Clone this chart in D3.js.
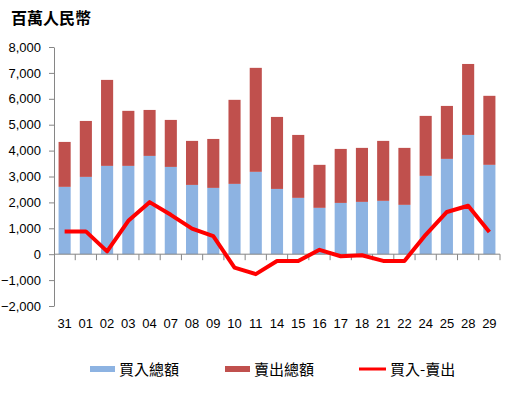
<!DOCTYPE html>
<html lang="zh-Hant">
<head>
<meta charset="UTF-8">
<title>買入賣出</title>
<script src="https://d3js.org/d3.v7.min.js"></script>
<style>
  body { margin: 0; background: #fff; }
  svg text { font-family: "Liberation Sans", Arial, sans-serif; }
</style>
</head>
<body>
<svg id="chart" width="516" height="396"></svg>
<script>
// 日期
var days = ["31","01","02","03","04","07","08","09","10","11","14","15","16","17","18","21","22","24","25","28","29"];
// 買入總額 (百萬人民幣)
var buyTotal = [2600, 2985, 3410, 3410, 3795, 3370, 2675, 2560, 2715, 3180, 2520, 2175, 1790, 1980, 2020, 2060, 1905, 3025, 3680, 4605, 3450];
// 賣出總額
var sellTotal = [1735, 2160, 3320, 2125, 1775, 1815, 1700, 1890, 3245, 4015, 2780, 2430, 1660, 2085, 2085, 2315, 2200, 2315, 2045, 2740, 2665];
// 買入-賣出
var netFlow = [880, 880, 110, 1290, 2010, 1520, 990, 700, -520, -770, -260, -260, 170, -80, -40, -260, -260, 750, 1630, 1870, 860];
var yTicks = [-2000, -1000, 0, 1000, 2000, 3000, 4000, 5000, 6000, 7000, 8000];

var svg = d3.select("#chart");
var plotLeft = 54, plotRight = 500, plotTop = 47, plotBottom = 306;

var x = d3.scaleBand()
    .domain(days)
    .range([plotLeft, plotRight])
    .paddingInner(0.43)
    .paddingOuter(0.215);

var y = d3.scaleLinear()
    .domain([-2000, 8000])
    .range([plotBottom, plotTop]);

var fmt = d3.format(",");

// 標題
svg.append("text")
    .attr("x", 11)
    .attr("y", 24)
    .attr("font-size", "16px")
    .attr("font-weight", "bold")
    .style("font-family", "'Noto Sans CJK TC', sans-serif")
    .text("百萬人民幣");

// 堆疊柱
var rows = days.map(function(d, i) {
    return { day: d, buy: buyTotal[i], sell: sellTotal[i], net: netFlow[i] };
});

svg.selectAll(".buy")
    .data(rows)
    .enter().append("rect")
    .attr("class", "buy")
    .attr("x", d => x(d.day))
    .attr("y", d => y(d.buy))
    .attr("width", x.bandwidth())
    .attr("height", d => y(0) - y(d.buy))
    .attr("fill", "#8DB3E2");

svg.selectAll(".sell")
    .data(rows)
    .enter().append("rect")
    .attr("class", "sell")
    .attr("x", d => x(d.day))
    .attr("y", d => y(d.buy + d.sell))
    .attr("width", x.bandwidth())
    .attr("height", d => y(d.buy) - y(d.buy + d.sell))
    .attr("fill", "#C0504D");

// Y 軸
var yAxis = svg.append("g")
    .attr("transform", "translate(" + plotLeft + ",0)")
    .call(d3.axisLeft(y).tickValues(yTicks).tickFormat(fmt).tickSize(5).tickSizeOuter(0));
yAxis.select(".domain").attr("stroke", "#868686");
yAxis.selectAll(".tick line").attr("stroke", "#868686");
yAxis.selectAll("text")
    .attr("x", -13)
    .attr("font-size", "13px")
    .attr("fill", "#000");

// X 軸 (零線)
svg.append("line")
    .attr("x1", plotLeft).attr("x2", plotRight)
    .attr("y1", y(0)).attr("y2", y(0))
    .attr("stroke", "#868686");

svg.selectAll(".xtick")
    .data(days)
    .enter().append("line")
    .attr("class", "xtick")
    .attr("x1", (d, i) => plotLeft + (i + 1) * x.step())
    .attr("x2", (d, i) => plotLeft + (i + 1) * x.step())
    .attr("y1", y(0)).attr("y2", y(0) + 6)
    .attr("stroke", "#868686");

svg.selectAll(".xlabel")
    .data(days)
    .enter().append("text")
    .attr("class", "xlabel")
    .attr("x", d => x(d) + x.bandwidth() / 2)
    .attr("y", 328)
    .attr("text-anchor", "middle")
    .attr("font-size", "13px")
    .text(d => d);

// 買入-賣出 線
var line = d3.line()
    .x(d => x(d.day) + x.bandwidth() / 2)
    .y(d => y(d.net));

svg.append("path")
    .datum(rows)
    .attr("d", line)
    .attr("fill", "none")
    .attr("stroke", "#FF0000")
    .attr("stroke-width", 4)
    .attr("stroke-linejoin", "round");

// 圖例
var legend = [
    { label: "買入總額", color: "#8DB3E2", type: "bar", x: 90 },
    { label: "賣出總額", color: "#C0504D", type: "bar", x: 225 },
    { label: "買入-賣出", color: "#FF0000", type: "line", x: 359 }
];
var lg = svg.selectAll(".legend")
    .data(legend)
    .enter().append("g")
    .attr("class", "legend")
    .attr("transform", d => "translate(" + d.x + ",369)");

lg.append("rect")
    .attr("x", 0)
    .attr("y", d => d.type === "bar" ? -3 : -1.5)
    .attr("width", d => d.type === "bar" ? 25 : 27)
    .attr("height", d => d.type === "bar" ? 6 : 3)
    .attr("fill", d => d.color);

lg.append("text")
    .attr("x", d => d.type === "bar" ? 29 : 31)
    .attr("y", 6)
    .attr("font-size", "15px")
    .style("font-family", "'Noto Sans CJK TC', sans-serif")
    .text(d => d.label);
</script>
</body>
</html>
